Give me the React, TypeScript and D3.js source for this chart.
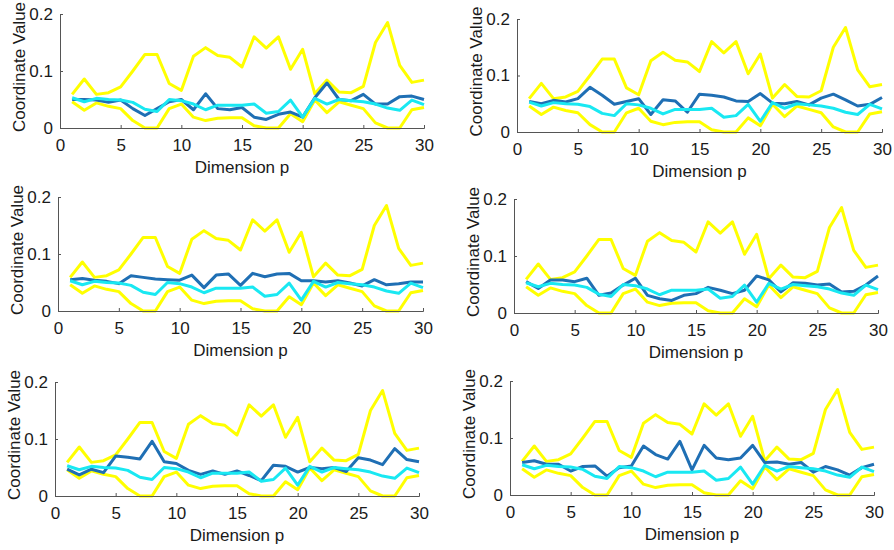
import React, { useEffect, useRef } from "react";
import * as d3 from "d3";

// shared across all six panels
const dims = d3.range(1, 31);
const upperBound = [0.059, 0.086, 0.059, 0.062, 0.072, 0.100, 0.129, 0.129, 0.078, 0.066, 0.126, 0.141, 0.127, 0.124, 0.107, 0.160, 0.140, 0.160, 0.103, 0.138, 0.060, 0.084, 0.063, 0.062, 0.073, 0.150, 0.185, 0.110, 0.080, 0.084];
const lowerBound = [0.046, 0.031, 0.044, 0.038, 0.034, 0.013, 0.0, 0.0, 0.034, 0.042, 0.019, 0.013, 0.017, 0.018, 0.018, 0.004, 0.0, 0.0, 0.025, 0.011, 0.049, 0.027, 0.046, 0.040, 0.034, 0.009, 0.0, 0.0, 0.032, 0.036];
const meanValues = [0.053, 0.046, 0.052, 0.050, 0.049, 0.045, 0.033, 0.029, 0.050, 0.048, 0.042, 0.032, 0.040, 0.040, 0.040, 0.042, 0.026, 0.029, 0.049, 0.019, 0.052, 0.042, 0.050, 0.048, 0.046, 0.042, 0.035, 0.031, 0.049, 0.041];

// one sample per panel
const sample1 = [0.050, 0.050, 0.049, 0.045, 0.049, 0.034, 0.022, 0.034, 0.046, 0.050, 0.032, 0.060, 0.034, 0.032, 0.036, 0.019, 0.015, 0.024, 0.028, 0.019, 0.053, 0.079, 0.050, 0.048, 0.059, 0.042, 0.042, 0.055, 0.056, 0.050];
const sample2 = [0.054, 0.050, 0.056, 0.053, 0.059, 0.079, 0.065, 0.049, 0.054, 0.059, 0.031, 0.057, 0.055, 0.035, 0.067, 0.065, 0.062, 0.055, 0.054, 0.068, 0.051, 0.050, 0.054, 0.048, 0.060, 0.067, 0.057, 0.046, 0.049, 0.061];
const sample3 = [0.055, 0.057, 0.054, 0.052, 0.048, 0.062, 0.059, 0.056, 0.055, 0.054, 0.063, 0.041, 0.063, 0.065, 0.045, 0.066, 0.060, 0.065, 0.066, 0.053, 0.053, 0.051, 0.053, 0.049, 0.044, 0.055, 0.046, 0.048, 0.051, 0.051];
const sample4 = [0.055, 0.043, 0.058, 0.058, 0.055, 0.061, 0.031, 0.035, 0.049, 0.061, 0.031, 0.025, 0.022, 0.031, 0.034, 0.045, 0.040, 0.034, 0.040, 0.065, 0.058, 0.037, 0.053, 0.052, 0.049, 0.051, 0.037, 0.038, 0.049, 0.065];
const sample5 = [0.047, 0.037, 0.047, 0.041, 0.070, 0.068, 0.065, 0.096, 0.060, 0.057, 0.045, 0.038, 0.044, 0.038, 0.044, 0.036, 0.027, 0.054, 0.052, 0.042, 0.050, 0.048, 0.050, 0.043, 0.067, 0.063, 0.055, 0.083, 0.064, 0.060];
const sample6 = [0.057, 0.060, 0.054, 0.054, 0.042, 0.050, 0.051, 0.033, 0.048, 0.051, 0.086, 0.071, 0.063, 0.094, 0.044, 0.087, 0.065, 0.062, 0.065, 0.087, 0.057, 0.058, 0.054, 0.057, 0.040, 0.050, 0.044, 0.035, 0.048, 0.054];
const samples = [sample1, sample2, sample3, sample4, sample5, sample6];

const xTicks = [0, 5, 10, 15, 20, 25, 30];
const yTicks = [0, 0.1, 0.2];

// plot boxes of the six panels
const panels = [
  { left: 60, right: 424, top: 14, bottom: 128 },
  { left: 517, right: 882, top: 19, bottom: 132 },
  { left: 58, right: 423, top: 197, bottom: 311 },
  { left: 514, right: 878, top: 199, bottom: 313 },
  { left: 55, right: 419, top: 382, bottom: 496 },
  { left: 510, right: 874, top: 381, bottom: 495 },
];

const FONT = "'Liberation Sans', Arial, sans-serif";
const AXIS_COLOR = "#555";
const TEXT_COLOR = "#1a1a1a";

export default function App() {
  const ref = useRef<SVGSVGElement>(null);

  useEffect(() => {
    const svg = d3.select(ref.current);
    svg.selectAll("*").remove();

    panels.forEach((p, i) => {
      const x = d3.scaleLinear().domain([0, 30]).range([p.left, p.right]);
      const y = d3.scaleLinear().domain([0, 0.2]).range([p.bottom, p.top]);
      const g = svg.append("g");

      const line = d3.line<number>()
        .x((d, j) => x(dims[j]))
        .y(d => y(d));

      const series = [
        { values: upperBound, color: "#ffff00" },
        { values: lowerBound, color: "#ffff00" },
        { values: samples[i], color: "#1f6fb4" },
        { values: meanValues, color: "#19e8f2" },
      ];
      series.forEach(s => {
        g.append("path")
          .attr("d", line(s.values))
          .attr("fill", "none")
          .attr("stroke", s.color)
          .attr("stroke-width", 3)
          .attr("stroke-linejoin", "round");
      });

      const xAxis = g.append("g")
        .attr("transform", `translate(0,${p.bottom})`)
        .call(d3.axisBottom(x).tickValues(xTicks).tickSize(-3).tickPadding(11).tickFormat(d3.format("d")));
      const yAxis = g.append("g")
        .attr("transform", `translate(${p.left},0)`)
        .call(d3.axisLeft(y).tickValues(yTicks).tickSize(-3).tickPadding(7).tickFormat(d => d === 0 ? "0" : d3.format(".1f")(d as number)));

      [xAxis, yAxis].forEach(a => {
        a.select(".domain").attr("stroke", AXIS_COLOR).attr("stroke-width", 1);
        a.selectAll(".tick line").attr("stroke", AXIS_COLOR);
        a.selectAll(".tick text")
          .attr("fill", TEXT_COLOR)
          .style("font-family", FONT)
          .style("font-size", "17px");
      });

      g.append("text")
        .attr("x", (p.left + p.right) / 2)
        .attr("y", p.bottom + 45)
        .attr("text-anchor", "middle")
        .attr("fill", TEXT_COLOR)
        .style("font-family", FONT)
        .style("font-size", "17px")
        .text("Dimension p");

      g.append("text")
        .attr("transform", `translate(${p.left - 35},${(p.top + p.bottom) / 2 - 4}) rotate(-90)`)
        .attr("text-anchor", "middle")
        .attr("fill", TEXT_COLOR)
        .style("font-family", FONT)
        .style("font-size", "17px")
        .text("Coordinate Value");
    });
  }, []);

  return (
    <svg
      ref={ref}
      width={894}
      height={550}
      style={{ position: "absolute", left: 0, top: 0, background: "#fff" }}
    />
  );
}
